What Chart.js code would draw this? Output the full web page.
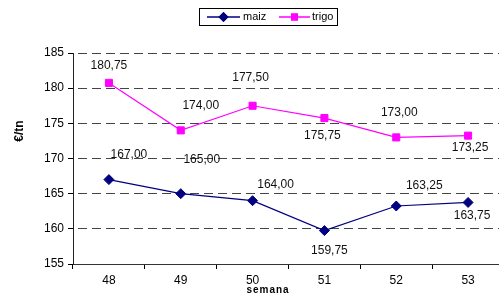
<!DOCTYPE html>
<html>
<head>
<meta charset="utf-8">
<script src="https://cdn.jsdelivr.net/npm/chart.js@4/dist/chart.umd.min.js"></script>
<style>
  html, body { margin: 0; padding: 0; background: #fff; overflow: hidden; }
  #wrap { width: 510px; height: 295px; }
</style>
</head>
<body>
<div id="wrap"><canvas id="chart" width="510" height="295"></canvas></div>
<script>
// data
const weeks = ["48", "49", "50", "51", "52", "53"];
const maiz = [167.00, 165.00, 164.00, 159.75, 163.25, 163.75];
const trigo = [180.75, 174.00, 177.50, 175.75, 173.00, 173.25];
const yTicks = [155, 160, 165, 170, 175, 180, 185];

// where each value label sits relative to its point (px)
const maizLabelOffsets = [[20,-25],[21,-34],[23,-16],[5,20],[28,-20],[4,13]];
const trigoLabelOffsets = [[0,-17],[20,-25],[-2,-28],[-2,18],[3,-25],[2,12]];

const FONT = "'Liberation Sans', Arial, sans-serif";
function fmt(v){ return v.toFixed(2).replace(".", ","); }

const valueLabels = {
  id: "valueLabels",
  afterDatasetsDraw(chart) {
    const ctx = chart.ctx;
    ctx.save();
    ctx.font = "12px " + FONT;
    ctx.fillStyle = "#111";
    ctx.textAlign = "center";
    ctx.textBaseline = "middle";
    chart.data.datasets.forEach((ds, i) => {
      const meta = chart.getDatasetMeta(i);
      const offs = ds.labelOffsets;
      meta.data.forEach((pt, j) => {
        ctx.fillText(fmt(ds.data[j]), pt.x + offs[j][0], pt.y + offs[j][1]);
      });
    });
    ctx.restore();
  }
};

const extras = {
  id: "extras",
  afterDraw(chart) {
    const ctx = chart.ctx;
    ctx.save();
    // y title
    ctx.font = "bold 12px " + FONT;
    ctx.fillStyle = "#000";
    ctx.textAlign = "center";
    ctx.textBaseline = "middle";
    ctx.translate(20, 131);
    ctx.rotate(-Math.PI / 2);
    ctx.fillText("€/tn", 0, 0);
    ctx.restore();

    // x title
    ctx.save();
    ctx.font = "bold 10px " + FONT;
    ctx.letterSpacing = "1px";
    ctx.fillStyle = "#000";
    ctx.textAlign = "center";
    ctx.textBaseline = "middle";
    ctx.fillText("semana", 268, 290);
    ctx.restore();

    // legend box
    ctx.save();
    ctx.strokeStyle = "#000";
    ctx.lineWidth = 1;
    ctx.strokeRect(199.5, 8.5, 138, 17);
    const items = [
      { ds: chart.data.datasets[0], x0: 207, x1: 240, tx: 243 },
      { ds: chart.data.datasets[1], x0: 279, x1: 310, tx: 312 }
    ];
    const ly = 17;
    items.forEach(it => {
      ctx.strokeStyle = it.ds.borderColor;
      ctx.lineWidth = 1.5;
      ctx.beginPath();
      ctx.moveTo(it.x0, ly);
      ctx.lineTo(it.x1, ly);
      ctx.stroke();
      ctx.fillStyle = it.ds.pointBackgroundColor;
      Chart.helpers.drawPoint(ctx, { pointStyle: it.ds.pointStyle, radius: it.ds.pointRadius, rotation: 0, borderWidth: 0 }, (it.x0 + it.x1) / 2, ly);
      ctx.fill();
      ctx.font = "11px " + FONT;
      ctx.fillStyle = "#000";
      ctx.textAlign = "left";
      ctx.textBaseline = "middle";
      ctx.fillText(it.ds.label, it.tx, ly);
    });
    ctx.restore();
  }
};

new Chart(document.getElementById("chart"), {
  type: "line",
  data: {
    labels: weeks,
    datasets: [
      {
        label: "maiz", data: maiz, labelOffsets: maizLabelOffsets,
        borderColor: "#000080", backgroundColor: "#000080",
        pointBackgroundColor: "#000080", pointBorderColor: "#000080",
        borderWidth: 1.2, pointStyle: "rectRot", pointRadius: 5, pointBorderWidth: 1, tension: 0
      },
      {
        label: "trigo", data: trigo, labelOffsets: trigoLabelOffsets,
        borderColor: "#FF00FF", backgroundColor: "#FF00FF",
        pointBackgroundColor: "#FF00FF", pointBorderColor: "#FF00FF",
        borderWidth: 1.2, pointStyle: "rect", pointRadius: 5, pointBorderWidth: 1, tension: 0
      }
    ]
  },
  options: {
    responsive: false,
    animation: false,
    layout: { padding: { top: 53, right: 4, left: 0, bottom: 0 } },
    plugins: { legend: { display: false }, tooltip: { enabled: false } },
    scales: {
      x: {
        offset: true,
        grid: { drawOnChartArea: false, drawTicks: true, tickLength: 5, offset: true, tickColor: "#000" },
        border: { display: true, color: "#333", width: 1, dash: [] },
        ticks: { font: { size: 12, family: FONT }, color: "#000", padding: 4, maxRotation: 0 },
        afterFit(scale) { scale.height = 31; }
      },
      y: {
        min: 155, max: 185,
        afterBuildTicks(scale) { scale.ticks = yTicks.map(v => ({ value: v })); },
        grid: { color: "#444", lineWidth: 1, drawTicks: true, tickLength: 5, tickColor: "#000", tickBorderDash: [] },
        border: { display: true, color: "#222", width: 1, dash: [9, 5], dashOffset: -4 },
        ticks: { font: { size: 12, family: FONT }, color: "#000", padding: 4 },
        afterFit(scale) { scale.width = 73; }
      }
    }
  },
  plugins: [valueLabels, extras]
});
</script>
</body>
</html>
